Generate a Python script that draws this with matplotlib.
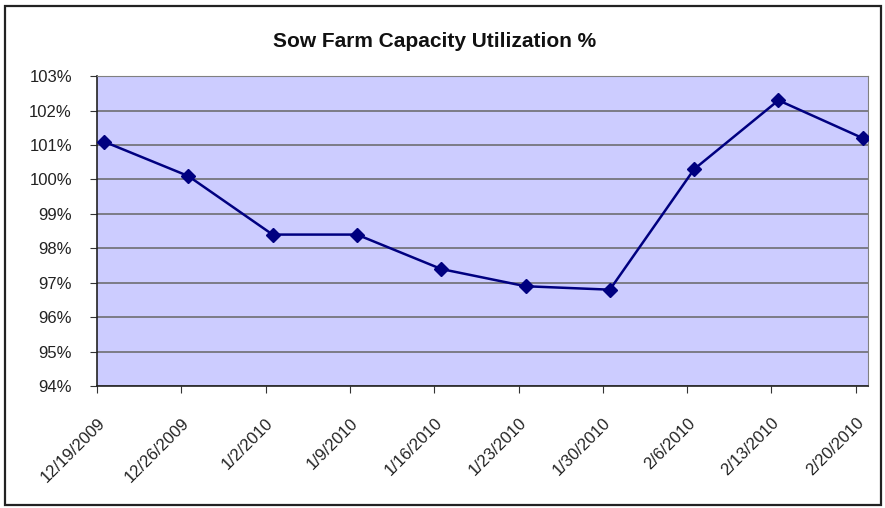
import numpy as np
import matplotlib.pyplot as plt
from matplotlib.patches import Rectangle
from matplotlib.ticker import FuncFormatter

plt.rcParams['font.family'] = ['Liberation Sans', 'DejaVu Sans']

dates = ['12/19/2009', '12/26/2009', '1/2/2010', '1/9/2010', '1/16/2010',
         '1/23/2010', '1/30/2010', '2/6/2010', '2/13/2010', '2/20/2010']
utilization = [101.1, 100.1, 98.4, 98.4, 97.4, 96.9, 96.8, 100.3, 102.3, 101.2]

fig = plt.figure(figsize=(8.85, 5.08), dpi=100)
fig.patches.append(Rectangle((0.006, 0.006), 0.99, 0.983, transform=fig.transFigure,
                             fill=False, edgecolor='#222222', linewidth=1.6))

ax = fig.add_axes([0.1096, 0.240, 0.871, 0.610])
ax.set_facecolor('#CCCCFF')
x = np.arange(len(dates))
ax.plot(x, utilization, color='#000080', linewidth=1.8, marker='D', markersize=7,
        markerfacecolor='#000080', markeredgecolor='#000080', zorder=3)

ax.set_xlim(-0.083, 9.06)
ax.set_ylim(94, 103)
ax.set_yticks(np.arange(94, 104, 1))
ax.yaxis.set_major_formatter(FuncFormatter(lambda v, p: '%d%%' % v))
ax.set_xticks(x - 0.083)
ax.set_xticklabels(dates, rotation=45, ha='right', rotation_mode='anchor')
ax.grid(axis='y', color='#666666', linewidth=1.1)
ax.set_axisbelow(True)
ax.tick_params(axis='both', labelsize=12, color='#333333', length=5, direction='out',
               labelcolor='#222222')
ax.tick_params(axis='y', pad=13)
ax.tick_params(axis='x', pad=16)

for side in ['top', 'right']:
    ax.spines[side].set_color('#808080')
for side in ['left', 'bottom']:
    ax.spines[side].set_color('#222222')
    ax.spines[side].set_linewidth(1.2)

fig.text(0.491, 0.918, 'Sow Farm Capacity Utilization %', ha='center', va='center',
         fontsize=15, fontweight='bold', color='#111111')

fig.savefig('out.png', dpi=100)
plt.close(fig)
